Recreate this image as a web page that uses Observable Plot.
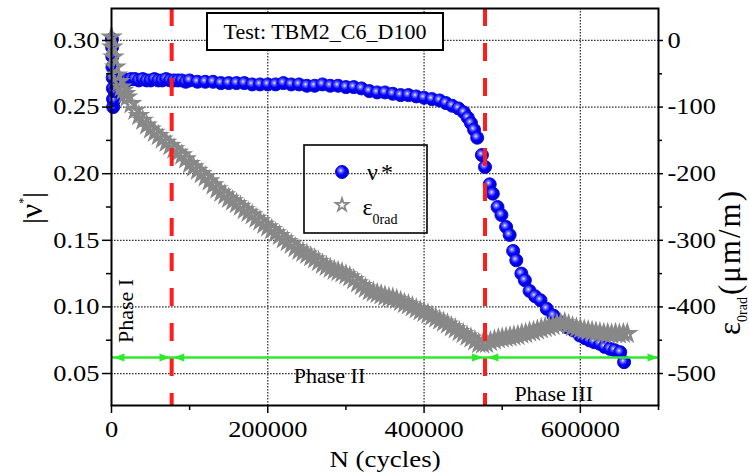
<!DOCTYPE html>
<html><head><meta charset="utf-8">
<script src="https://cdn.jsdelivr.net/npm/d3@7"></script>
<script src="https://cdn.jsdelivr.net/npm/@observablehq/plot@0.6"></script>
<style>
html,body{margin:0;padding:0;background:#fff;}
#chart{width:749px;height:476px;}
#chart svg text{font-family:'Liberation Serif','Times New Roman',serif;}
</style>
</head><body><div id="chart"></div>
<script>
// ---- data ----
const blueN = [500,800,1000,1200,1500,1800,2000,2200,3000,4000,6000,8000,
  10000,15000,20000,25000,30000,35000,40000,45000,50000,55000,60000,65000,70000,75000,80000,85000,90000,95000,
  100000,110000,120000,130000,140000,150000,160000,170000,180000,190000,200000,210000,220000,230000,240000,
  250000,260000,270000,280000,290000,300000,310000,320000,330000,340000,350000,360000,370000,380000,390000,
  400000,410000,420000,428000,436000,444000,451000,456000,460000,464000,468000,
  474000,478000,484000,488000,494000,499000,505000,509500,514000,518000,524500,529000,535000,542000,
  549000,557000,565500,574000,582500,591000,599500,606000,612000,618000,625000,631000,638000,644000,651000,656000];
const blueV = [0.301,0.295,0.288,0.280,0.272,0.264,0.256,0.250,0.255,0.262,0.267,0.269,
  0.270,0.271,0.270,0.271,0.271,0.270,0.271,0.270,0.270,0.271,0.270,0.270,0.271,0.270,0.270,0.270,0.270,0.269,
  0.270,0.269,0.269,0.269,0.268,0.268,0.268,0.268,0.267,0.267,0.267,0.267,0.268,0.267,0.267,
  0.266,0.266,0.267,0.266,0.266,0.265,0.265,0.264,0.262,0.261,0.261,0.260,0.259,0.259,0.258,
  0.257,0.256,0.255,0.253,0.251,0.249,0.246,0.242,0.238,0.233,0.227,
  0.214,0.205,0.192,0.185,0.175,0.169,0.160,0.154,0.142,0.135,0.125,0.120,0.112,0.108,
  0.105,0.0986,0.0935,0.0885,0.0848,0.0823,0.0785,0.0765,0.0748,0.0735,0.0723,0.0700,0.0685,0.0675,0.0660,0.0585];

const grayN = [0,1000,2500,5000,7500,10000,12500,15000,17500,20000,25000,30000,35000,40000,45000,
  50000,55000,60000,65000,70000,75000,80000,85000,90000,95000,
  100000,105000,110000,115000,120000,125000,130000,135000,140000,145000,
  150000,155000,160000,165000,170000,175000,180000,185000,190000,195000,
  200000,205000,210000,215000,220000,225000,230000,235000,240000,245000,
  250000,255000,260000,265000,270000,275000,280000,285000,290000,295000,
  300000,305000,310000,315000,320000,325000,330000,335000,340000,345000,
  350000,355000,360000,365000,370000,375000,380000,385000,390000,395000,
  400000,405000,410000,415000,420000,425000,430000,435000,440000,445000,
  450000,455000,460000,465000,470000,475000,480000,485000,490000,495000,
  500000,505000,510000,515000,520000,525000,530000,535000,540000,545000,
  550000,555000,560000,565000,570000,575000,580000,585000,590000,595000,
  600000,605000,610000,615000,620000,625000,630000,635000,640000,645000,
  650000,655000,660000];
const grayE = [5,-10,-25,-40,-52,-62,-70,-75,-80,-85,-95,-105,-113,-120,-127,
  -133,-138,-143,-148,-153,-158,-163,-168,-172,-178,
  -185,-190,-195,-200,-205,-211,-217,-223,-228,-232,
  -237,-241,-245,-249,-254,-258,-262,-267,-271,-276,
  -280,-284,-289,-293,-298,-302,-306,-311,-315,-318,
  -321,-325,-328,-332,-336,-339,-342,-345,-347,-349,
  -352,-355,-359,-364,-368,-372,-376,-378,-380,-382,
  -384,-386,-387,-389,-392,-395,-397,-400,-403,-406,
  -408,-411,-414,-417,-420,-423,-426,-430,-433,-437,
  -440,-444,-447,-451,-455,-456,-455,-452,-450,-448,
  -447,-446,-445,-444,-443,-441,-440,-438,-437,-435,
  -433,-431,-430,-428,-426,-425,-424,-427,-430,-432,
  -433,-435,-436,-437,-438,-439,-440,-440,-441,-440,
  -441,-440,-440];

const leftTicks = [0.05, 0.10, 0.15, 0.20, 0.25, 0.30];
const leftMinor = [0.075, 0.125, 0.175, 0.225, 0.275];
const rightTicks = [0, -100, -200, -300, -400, -500];
const rightMinor = [-50, -150, -250, -350, -450];
const xTicks = [0, 200000, 400000, 600000];
const xMinor = [100000, 300000, 500000, 700000];
const xGrid = [200000, 400000, 600000];
const phaseLines = [77000, 478000];
const phaseNames = ["Phase I", "Phase II", "Phase III"];
const phaseNameN = [19000, 279000, 566000];
const phaseNameV = [0.097, 0.0485, 0.035];
const phaseArrowV = 0.062;
const arrowTipN = [2500, 75500, 79000, 475500, 481000, 700000];
const arrowDir = ["left", "right", "left", "right", "left", "right"];
const titleText = "Test: TBM2_C6_D100";

// ---- helpers ----
const toV = e => 0.30 + e / 2000;     // right axis (µm/m) mapped onto the left-axis scale
const fromV = v => Math.round((v - 0.30) * 2000);
const blue = blueN.map((n, i) => ({n, v: blueV[i]}));
const gray = grayN.map((n, i) => ({n, v: toV(grayE[i])}));
const arrows = arrowTipN.map((n, i) => ({n, dir: arrowDir[i]}));
const phases = phaseNames.map((t, i) => ({t, n: phaseNameN[i], v: phaseNameV[i], rot: i === 0 ? -90 : 0}));

const triRight = {draw(ctx) { ctx.moveTo(0, 0); ctx.lineTo(-11, -4); ctx.lineTo(-11, 4); ctx.closePath(); }};
const triLeft  = {draw(ctx) { ctx.moveTo(0, 0); ctx.lineTo(11, -4); ctx.lineTo(11, 4); ctx.closePath(); }};

const GREEN = "#2eea2e", RED = "#ff1c1c", GRAY = "#888888";
const gridStyle = {stroke: "#333", strokeWidth: 1.3, strokeDasharray: "1.6,1.4"};

const plot = Plot.plot({
  width: 749, height: 476,
  marginLeft: 111, marginRight: 91, marginTop: 8, marginBottom: 71,
  style: {fontFamily: "'Liberation Serif', serif", fontSize: "23px", background: "white", color: "black"},
  x: {domain: [0, 700000], axis: null},
  y: {domain: [0.026, 0.324], axis: null},
  marks: [
    Plot.ruleY(leftTicks, gridStyle),
    Plot.ruleX(xGrid, gridStyle),
    Plot.dot(blue, {x: "n", y: "v", r: 6.5, fill: "url(#ballgrad)", stroke: "#0a0ae6", strokeWidth: 1}),
    Plot.dot(gray, {x: "n", y: "v", r: 4.6, symbol: "star", fill: "none", stroke: GRAY, strokeWidth: 2.6}),
    Plot.ruleX(phaseLines, {stroke: RED, strokeWidth: 4, strokeDasharray: "18,17"}),
    Plot.ruleY([phaseArrowV], {stroke: GREEN, strokeWidth: 2.5}),
    Plot.dot(arrows.filter(d => d.dir === "right"), {x: "n", y: () => phaseArrowV, symbol: triRight, fill: GREEN, stroke: "none", r: 5}),
    Plot.dot(arrows.filter(d => d.dir === "left"), {x: "n", y: () => phaseArrowV, symbol: triLeft, fill: GREEN, stroke: "none", r: 5}),
    Plot.text(phases, {x: "n", y: "v", text: "t", rotate: "rot", fontSize: 22, fill: "black"}),
    Plot.axisY({anchor: "left", ticks: leftTicks, tickSize: 9, tickPadding: 3, tickFormat: d => d.toFixed(2), label: null, strokeWidth: 1.5}),
    Plot.axisY({anchor: "left", ticks: leftMinor, tickSize: 5, tickFormat: () => "", label: null, strokeWidth: 1.5}),
    Plot.axisY({anchor: "right", ticks: rightTicks.map(toV), tickSize: 4, tickPadding: 5, tickFormat: v => String(fromV(v)), label: null, strokeWidth: 1.5}),
    Plot.axisY({anchor: "right", ticks: rightMinor.map(toV), tickSize: 3, tickFormat: () => "", label: null, strokeWidth: 1.5}),
    Plot.axisX({anchor: "bottom", ticks: xTicks, tickSize: 8, tickPadding: 7, tickFormat: d => String(d), label: null, strokeWidth: 1.5}),
    Plot.axisX({anchor: "bottom", ticks: xMinor, tickSize: 5, tickFormat: () => "", label: null, strokeWidth: 1.5}),
    Plot.frame({stroke: "black", strokeWidth: 2})
  ]
});
document.getElementById("chart").append(plot);

const svg = d3.select(plot);
const grad = svg.insert("defs", ":first-child").append("radialGradient")
  .attr("id", "ballgrad").attr("cx", "40%").attr("cy", "38%").attr("r", "62%");
[["0%", "#eeeeff"], ["22%", "#7070ff"], ["55%", "#0000ff"], ["100%", "#0000c0"]]
  .forEach(([o, c]) => grad.append("stop").attr("offset", o).attr("stop-color", c));

// tick labels of the reference are slightly wide: stretch them horizontally about their anchor
svg.selectAll('[aria-label$="tick label"] text').attr("transform", function () {
  return (this.getAttribute("transform") || "") + " scale(1.15,1)";
});

const ann = svg.append("g").attr("fill", "black");

// title box
ann.append("rect").attr("x", 207).attr("y", 13).attr("width", 236).attr("height", 37)
  .attr("fill", "white").attr("stroke", "black").attr("stroke-width", 2);
ann.append("text").attr("x", 325).attr("y", 38.5).attr("text-anchor", "middle")
  .attr("font-size", 22).text(titleText);

// legend
ann.append("rect").attr("x", 304).attr("y", 145).attr("width", 123).attr("height", 88)
  .attr("fill", "none").attr("stroke", "black").attr("stroke-width", 1.6);
ann.append("circle").attr("cx", 342).attr("cy", 172).attr("r", 6.5)
  .attr("fill", "url(#ballgrad)").attr("stroke", "#0a0ae6").attr("stroke-width", 1);
ann.append("path").attr("transform", "translate(342,205)")
  .attr("d", d3.symbol(d3.symbolStar, 50)())
  .attr("fill", "none").attr("stroke", GRAY).attr("stroke-width", 1.8);
const l1 = ann.append("text").attr("x", 380).attr("y", 180).attr("font-size", 24);
l1.append("tspan").text("ν");
l1.append("tspan").attr("dx", 3).text("*");
const l2 = ann.append("text").attr("x", 380).attr("y", 215).attr("font-size", 24);
l2.append("tspan").text("ε");
l2.append("tspan").attr("font-size", 14).attr("dy", 9).text("0rad");

// axis titles
ann.append("text").attr("transform", "translate(385,467) scale(1.12,1)").attr("text-anchor", "middle")
  .attr("font-size", 24).text("N (cycles)");
const yl = ann.append("text").attr("transform", "translate(42,208) rotate(-90)")
  .attr("text-anchor", "middle").attr("font-size", 28);
yl.append("tspan").text("|");
yl.append("tspan").attr("font-size", 32).text("ν");
yl.append("tspan").attr("font-size", 12).attr("dy", -15).text("*");
yl.append("tspan").attr("dy", 15).text("|");
const yr = ann.append("text").attr("transform", "translate(740,262) rotate(-90)")
  .attr("text-anchor", "middle").attr("font-size", 31);
yr.append("tspan").text("ε");
yr.append("tspan").attr("font-size", 14).attr("dy", 7).text("0rad");
yr.append("tspan").attr("dy", -7).attr("dx", 2).attr("letter-spacing", 2).text("(μm/m)");
</script>
</body></html>
